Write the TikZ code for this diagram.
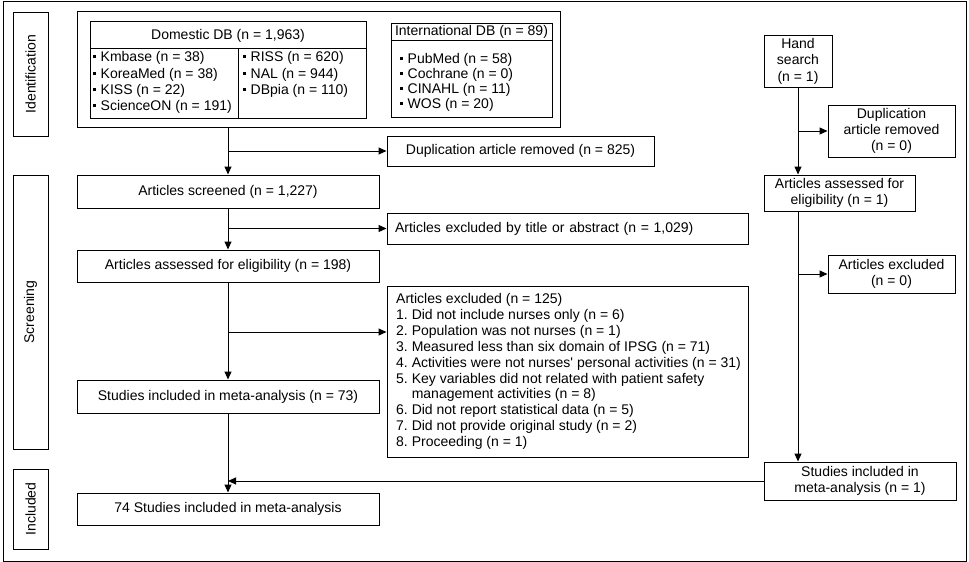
\documentclass[tikz,border=0pt]{standalone}
\usepackage{fontspec}
\setmainfont{Liberation Sans}
\usetikzlibrary{arrows.meta}
\newcommand{\bul}{\rule[3.5pt]{3pt}{3pt}\hspace{4.5pt}}
\frenchspacing
\begin{document}
\begin{tikzpicture}[x=1pt,y=-1pt,
  every node/.style={font=\fontsize{14}{16}\selectfont, inner sep=0pt},
  box/.style={draw, line width=1pt, align=center},
  lbox/.style={draw, line width=1pt, align=left, inner xsep=8pt},
  lab/.style={draw, line width=1pt, rotate=90, minimum height=35pt},
  txt/.style={anchor=west, text height=10pt, text depth=3pt},
  arr/.style={-{Triangle[length=8pt,width=7pt]}, line width=1pt},
  ln/.style={line width=1pt}]
\useasboundingbox (0,0) rectangle (969,562);
\node[draw, line width=1pt, minimum width=963pt, minimum height=560pt] (frame) at (484.5,281) {};
% stage labels
\node[lab, minimum width=124pt] (idl) at (30.5,74) {Identification};
\node[lab, minimum width=274pt] (scl) at (30.5,312) {Screening};
\node[lab, minimum width=80pt] (inl) at (30.5,509) {Included};
% databases
\node[box, minimum width=483pt, minimum height=116pt] (db) at (318.5,69) {};
\node[box, minimum width=276pt, minimum height=97pt] (dom) at (228,69.5) {};
\draw[ln] (90,48.5) -- (366,48.5);
\draw[ln] (238.5,48.5) -- (238.5,118);
\node (domh) at (228,36) {Domestic DB (n = 1,963)};
\node[txt] (d1) at (93,58) {\bul Kmbase (n = 38)};
\node[txt] (d2) at (93,74.5) {\bul KoreaMed (n = 38)};
\node[txt] (d3) at (93,90.5) {\bul KISS (n = 22)};
\node[txt] (d4) at (93,106.5) {\bul ScienceON (n = 191)};
\node[txt] (d5) at (243,58) {\bul RISS (n = 620)};
\node[txt] (d6) at (243,74.5) {\bul NAL (n = 944)};
\node[txt] (d7) at (243,90.5) {\bul DBpia (n = 110)};
\node[box, minimum width=161pt, minimum height=94pt] (intl) at (471.5,70) {};
\draw[ln] (391,40) -- (552,40);
\node (inth) at (471.5,32) {International DB (n = 89)};
\node[txt] (i1) at (400,60) {\bul PubMed (n = 58)};
\node[txt] (i2) at (400,75) {\bul Cochrane (n = 0)};
\node[txt] (i3) at (400,90) {\bul CINAHL (n = 11)};
\node[txt] (i4) at (400,105) {\bul WOS (n = 20)};
% main column
\node[box, minimum width=267pt, minimum height=30pt] (dup) at (520.5,151) {Duplication article removed (n = 825)};
\node[box, minimum width=302pt, minimum height=33pt] (scr) at (228,191.5) {Articles screened (n = 1,227)};
\node[lbox, text width=345pt, minimum height=31pt] (ttl) at (567.5,228.5) {Articles excluded by title or abstract (n = 1,029)};
\node[box, minimum width=302pt, minimum height=32pt] (elig) at (228,266) {Articles assessed for eligibility (n = 198)};
\node[box, minimum width=361pt, minimum height=171pt] (excl) at (567.5,371.5) {};
\node[anchor=west, align=left, font=\fontsize{14}{15.9}\selectfont] (excltxt) at (396,371.5) {Articles excluded (n = 125)\\
1. Did not include nurses only (n = 6)\\
2. Population was not nurses (n = 1)\\
3. Measured less than six domain of IPSG (n = 71)\\
4. Activities were not nurses\textquotesingle\ personal activities (n = 31)\\
5. Key variables did not related with patient safety\\
\hphantom{5. }management activities (n = 8)\\
6. Did not report statistical data (n = 5)\\
7. Did not provide original study (n = 2)\\
8. Proceeding (n = 1)};
\node[box, minimum width=302pt, minimum height=33pt] (inc73) at (228,396.5) {Studies included in meta-analysis (n = 73)};
\node[box, minimum width=302pt, minimum height=32pt] (final) at (228,509) {74 Studies included in meta-analysis};
% hand search column
\node[box, minimum width=68pt, minimum height=52pt, font=\fontsize{14}{16.5}\selectfont] (hand) at (798,61) {Hand\\search\\(n = 1)};
\node[box, minimum width=127pt, minimum height=52pt] (dup2) at (891.5,131) {Duplication\\article removed\\(n = 0)};
\node[box, minimum width=151pt, minimum height=36pt] (elig2) at (839.5,193) {Articles assessed for\\eligibility (n = 1)};
\node[box, minimum width=127pt, minimum height=38pt] (ex2) at (891.5,274) {Articles excluded\\(n = 0)};
\node[box, minimum width=192pt, minimum height=38pt] (inc1) at (860,481) {Studies included in\\meta-analysis (n = 1)};
% connectors
\coordinate (b3) at (228,332);
\draw[arr] (scr.north |- db.south) -- (scr.north);
\draw[arr] (scr.north |- dup.west) -- (dup.west);
\draw[arr] (scr.south) -- (elig.north);
\draw[arr] (scr.south |- ttl.west) -- (ttl.west);
\draw[arr] (elig.south) -- (inc73.north);
\draw[arr] (b3) -- (excl.west |- b3);
\draw[arr] (inc73.south) -- (final.north);
\draw[arr] (inc1.west) -- (final.north |- inc1.west);
\draw[arr] (hand.south) -- (hand.south |- elig2.north);
\draw[arr] (hand.south |- dup2.west) -- (dup2.west);
\draw[arr] (hand.south |- elig2.south) -- (hand.south |- inc1.north);
\draw[arr] (hand.south |- ex2.west) -- (ex2.west);
\end{tikzpicture}
\end{document}
